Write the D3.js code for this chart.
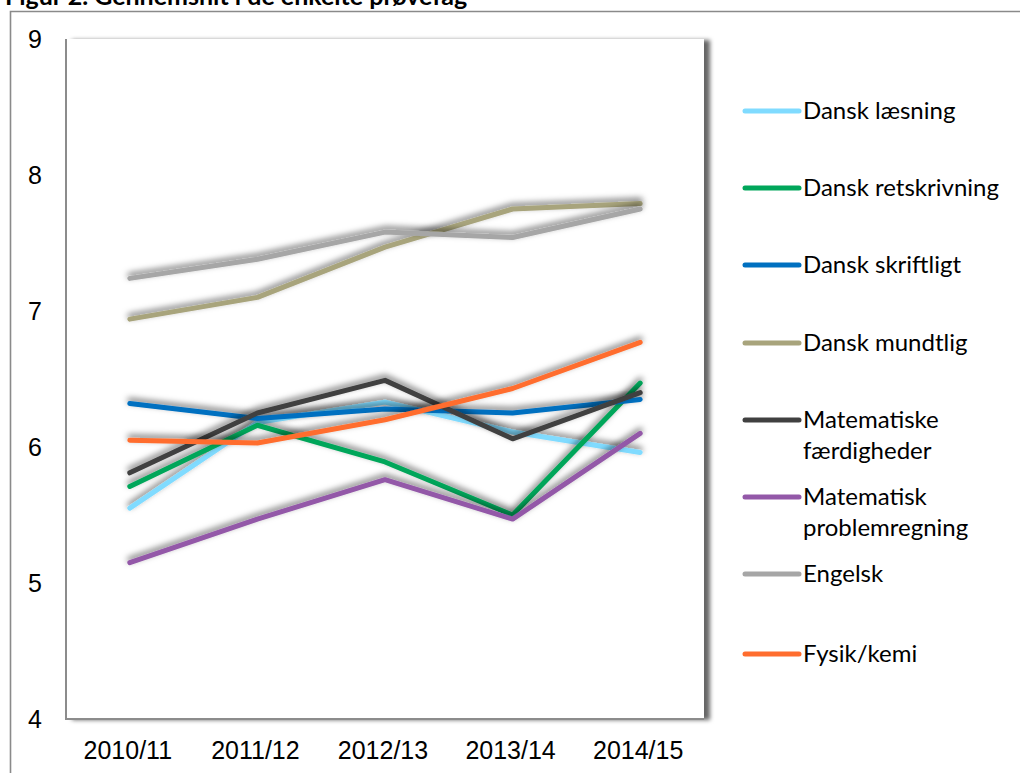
<!DOCTYPE html>
<html><head><meta charset="utf-8">
<script src="https://cdn.jsdelivr.net/npm/d3@7"></script>
<style>body{margin:0;background:#fff}svg{display:block}</style>
</head><body>
<svg id="c" width="1020" height="773"></svg>
<script>
const categories = ["2010/11","2011/12","2012/13","2013/14","2014/15"];
const seriesNames = ["Dansk læsning","Dansk retskrivning","Dansk skriftligt","Dansk mundtlig","Matematiske færdigheder","Matematisk problemregning","Engelsk","Fysik/kemi"];
const legendLines = [["Dansk læsning"],["Dansk retskrivning"],["Dansk skriftligt"],["Dansk mundtlig"],["Matematiske","færdigheder"],["Matematisk","problemregning"],["Engelsk"],["Fysik/kemi"]];
const danskLaesning = [5.55,6.18,6.33,6.11,5.96];
const danskRetskrivning = [5.71,6.16,5.89,5.50,6.47];
const danskSkriftligt = [6.32,6.21,6.28,6.25,6.35];
const danskMundtlig = [6.94,7.10,7.47,7.75,7.79];
const matFaerdigheder = [5.81,6.25,6.49,6.06,6.40];
const matProblemregning = [5.15,5.47,5.76,5.47,6.10];
const engelsk = [7.24,7.38,7.58,7.54,7.75];
const fysikKemi = [6.05,6.03,6.20,6.43,6.77];
const seriesValues = [danskLaesning,danskRetskrivning,danskSkriftligt,danskMundtlig,matFaerdigheder,matProblemregning,engelsk,fysikKemi];
const colors = ["#80dbff","#00a65a","#0070c0","#a8a47c","#404040","#9358a8","#a6a6a6","#ff6d2e"];
const yTicks = [4,5,6,7,8,9];
const title = "Figur 2. Gennemsnit i de enkelte prøvefag";

const svg = d3.select("#c");
const defs = svg.append("defs");
const f1 = defs.append("filter").attr("id","lineShadow").attr("x","-10%").attr("y","-40%").attr("width","120%").attr("height","180%");
f1.append("feDropShadow").attr("dx",0).attr("dy",-3).attr("stdDeviation",3.2).attr("flood-color","#000").attr("flood-opacity",0.55);
const f2 = defs.append("filter").attr("id","boxShadow").attr("x","-5%").attr("y","-5%").attr("width","115%").attr("height","115%");
f2.append("feDropShadow").attr("dx",6).attr("dy",1).attr("stdDeviation",2.2).attr("flood-color","#000").attr("flood-opacity",0.6);

// title (cut off at top, as in the source)
svg.append("text").attr("x",5).attr("y",5).attr("font-family","Lato, 'Open Sans', sans-serif")
  .attr("font-weight","bold").attr("font-size",25).attr("fill","#000").text(title);

// outer frame
svg.append("path").attr("d","M10.5,773 V11.5 H1020").attr("fill","none").attr("stroke","#8a8a8a").attr("stroke-width",1.6);

const L=66, R=704, T=39, B=719;
const x = d3.scaleBand().domain(categories).range([L,R]);
const y = d3.scaleLinear().domain([4,9]).range([B,T]);

// plot area
svg.append("rect").attr("x",L).attr("y",T).attr("width",R-L).attr("height",B-T)
  .attr("fill","#fff").attr("filter","url(#boxShadow)");
svg.append("path").attr("d",`M${L},${T} V${B} H${R}`).attr("fill","none").attr("stroke","#8c8c8c").attr("stroke-width",2);

// y axis labels
svg.append("g").selectAll("text").data(yTicks).join("text")
  .attr("x",35).attr("y",d=>y(d)).attr("dy","0.36em").attr("text-anchor","middle")
  .attr("font-family","'Liberation Sans', Arial, sans-serif").attr("font-size",25).attr("fill","#000")
  .text(d=>d);

// x axis labels
svg.append("g").selectAll("text").data(categories).join("text")
  .attr("x",d=>x(d)+x.bandwidth()/2-2).attr("y",759).attr("text-anchor","middle")
  .attr("font-family","'Liberation Sans', Arial, sans-serif").attr("font-size",25).attr("fill","#000")
  .text(d=>d);

// lines
const line = d3.line().x((d,i)=>x(categories[i])+x.bandwidth()/2).y(d=>y(d));
svg.append("g").selectAll("path").data(seriesValues).join("path")
  .attr("d",d=>line(d)).attr("fill","none").attr("stroke",(d,i)=>colors[i])
  .attr("stroke-width",5).attr("stroke-linejoin","round").attr("stroke-linecap","round")
  .attr("filter","url(#lineShadow)");

// legend
const legendY = [111,188,265,343,420,497,574,654];
const lg = svg.append("g").selectAll("g").data(seriesNames).join("g")
  .attr("transform",(d,i)=>`translate(0,${legendY[i]})`);
lg.append("line").attr("x1",745).attr("x2",799).attr("y1",0).attr("y2",0)
  .attr("stroke",(d,i)=>colors[i]).attr("stroke-width",5).attr("stroke-linecap","round");
lg.each(function(d,i){
  const t = d3.select(this).append("text").attr("x",803).attr("y",0)
    .attr("font-family","Lato, 'Open Sans', sans-serif").attr("font-size",24).attr("fill","#000");
  legendLines[i].forEach((s,k)=>{
    t.append("tspan").attr("x",803).attr("dy",k===0?"0.35em":"31px").text(s);
  });
});
</script>
</body></html>
